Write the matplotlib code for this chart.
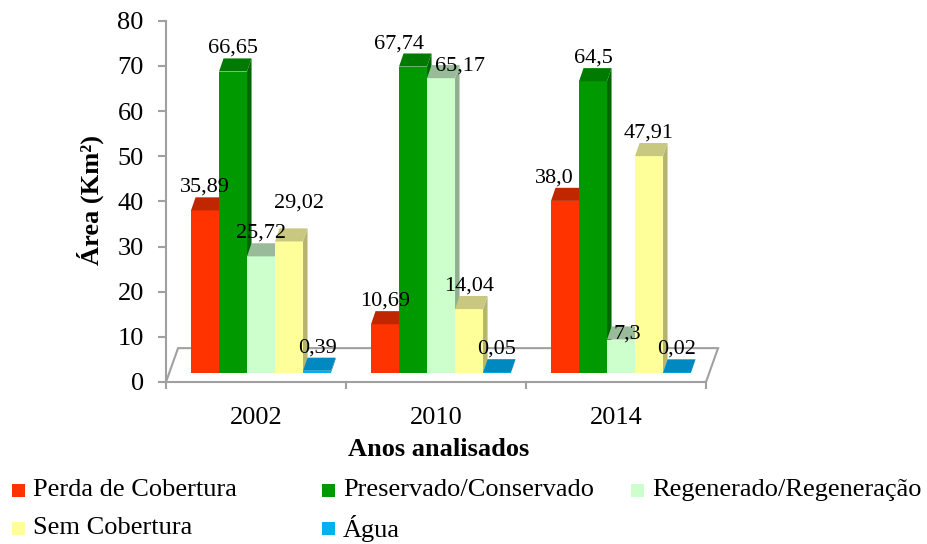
import matplotlib.pyplot as plt
from matplotlib.patches import Polygon, Rectangle

# ---------------------------------
# Data (area in km2 per class and year)
# ---------------------------------
years = ["2002", "2010", "2014"]
classes = ["Perda de Cobertura", "Preservado/Conservado", "Regenerado/Regeneração",
           "Sem Cobertura", "Água"]
perda = [35.89, 10.69, 38.0]
preservado = [66.65, 67.74, 64.5]
regenerado = [25.72, 65.17, 7.3]
sem_cobertura = [29.02, 14.04, 47.91]
agua = [0.39, 0.05, 0.02]
series = [perda, preservado, regenerado, sem_cobertura, agua]

# face colours: front, top, side
front_colors = ["#FF3300", "#009900", "#CCFFCC", "#FFFF99", "#00B0F0"]
top_colors = ["#C02600", "#007A00", "#99BB99", "#C8C880", "#0088C0"]
side_colors = ["#A52000", "#006600", "#8FAF8F", "#B5B56E", "#00709F"]

plt.rcParams["font.family"] = ["Liberation Serif", "DejaVu Serif"]

fig = plt.figure(figsize=(9.27, 5.44), dpi=100)
ax = fig.add_axes([166 / 927, 1 - 382 / 544, 540 / 927, (382 - 20.7) / 544])
ax.set_xlim(-0.5, 2.5)
ax.set_ylim(0, 80)

# pseudo 3d geometry (data units)
BAR_W = 0.1556
FIRST = -0.361
BASE = 2.1
DX, DY = 0.025, 2.9
FX, FY = 0.067, 7.5
GREY = "#A0A0A0"

# floor outline
ax.plot([-0.5, -0.5 + FX, 2.5 + FX, 2.5], [0, FY, FY, 0],
        color=GREY, lw=1.5, zorder=1, clip_on=False, solid_joinstyle="miter")

# label nudges in pixels (dx, dy above front top)
nudges = {(0, 3): (10, 38), (1, 1): (-14, 23), (1, 2): (19, 12),
          (2, 0): (-11, 23), (2, 2): (6, 6)}

for j, vals in enumerate(series):
    z = 2 + j * 0.1
    lefts = [i + FIRST + j * BAR_W for i in range(len(years))]
    ax.bar(lefts, vals, width=BAR_W, bottom=BASE, align="edge",
           color=front_colors[j], linewidth=0, zorder=z)
    for i, (l, v) in enumerate(zip(lefts, vals)):
        r = l + BAR_W
        top = BASE + v
        ax.add_patch(Polygon([(r, BASE), (r + DX, BASE + DY), (r + DX, top + DY), (r, top)],
                             closed=True, facecolor=side_colors[j], lw=0, zorder=z))
        ax.add_patch(Polygon([(l, top), (l + DX, top + DY), (r + DX, top + DY), (r, top)],
                             closed=True, facecolor=top_colors[j], lw=0, zorder=z))
        ndx, ndy = nudges.get((i, j), (0, 23))
        ax.annotate(str(v).replace(".", ","), xy=(l + BAR_W / 2, top),
                    xytext=(ndx * 0.72, ndy * 0.72), textcoords="offset points",
                    ha="center", va="center", fontsize=16, zorder=10)

# axes styling
for s in ["top", "right"]:
    ax.spines[s].set_visible(False)
ax.spines["left"].set_color(GREY)
ax.spines["left"].set_linewidth(1.5)
ax.spines["bottom"].set_color(GREY)
ax.spines["bottom"].set_linewidth(1.5)

ax.set_yticks(range(0, 81, 10))
ax.tick_params(axis="y", length=6, width=1.5, color=GREY, pad=10, labelsize=19)
ax.set_xticks(range(len(years)))
ax.set_xticklabels(years)
ax.set_xticks([-0.5, 0.5, 1.5, 2.5], minor=True)
ax.tick_params(axis="x", which="major", length=0, pad=18, labelsize=19)
ax.tick_params(axis="x", which="minor", length=5, width=1.5, color=GREY)

fig.text(90 / 927, 1 - 200 / 544, "Área (Km²)", rotation=90, ha="center", va="center",
         fontsize=19, fontweight="bold")
fig.text(439 / 927, 1 - 450 / 544, "Anos analisados", ha="center", va="center",
         fontsize=19, fontweight="bold")

# legend drawn by hand, two rows
legend_pos = [(33, 490), (343, 490), (652, 490), (33, 528), (343, 528)]
for (px, py), name, c in zip(legend_pos, classes, front_colors):
    fig.patches.append(Rectangle(((px - 21) / 927, 1 - (py + 7) / 544), 13 / 927, 13 / 544,
                                 transform=fig.transFigure, facecolor=c, lw=0))
    fig.text(px / 927, 1 - py / 544, name, ha="left", va="center", fontsize=19)

fig.savefig("out.png", dpi=100)
plt.close(fig)
